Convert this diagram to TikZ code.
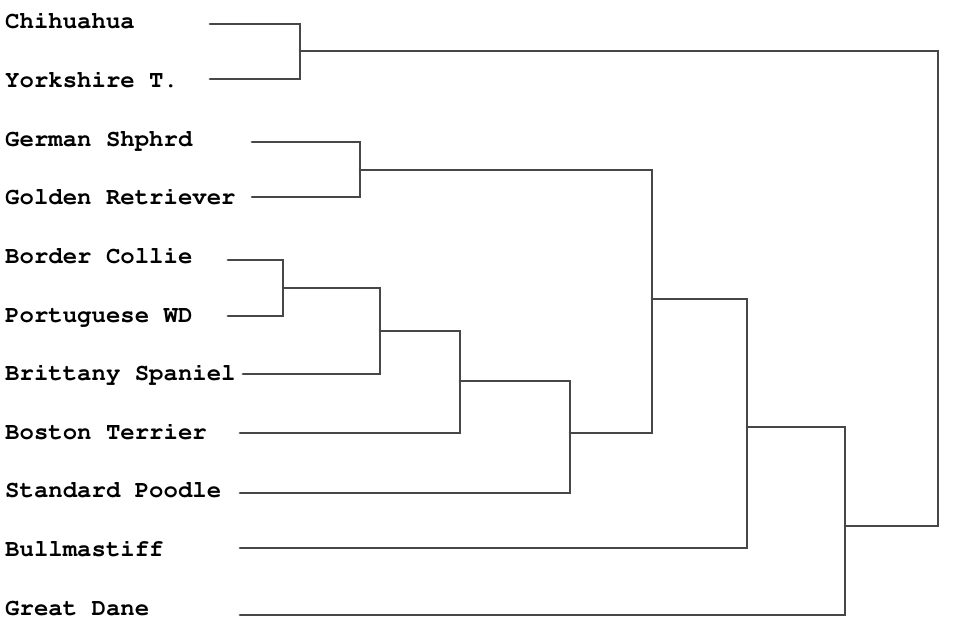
\documentclass[tikz,border=0pt]{standalone}
\usepackage[T1,TU]{fontenc}
\usepackage{tikz}
\usetikzlibrary{positioning}
\tikzset{
        breed/.style={anchor=base west, inner sep=0pt,
                      font=\fontencoding{T1}\fontfamily{pcr}\fontseries{b}\fontsize{24}{28}\selectfont},
        link/.style={draw=black!72, line width=2.7pt, line cap=round},
 }

\begin{document}
\begin{tikzpicture}[x=1pt, y=-1pt]
    \useasboundingbox (0,0) rectangle (960,640);

    % breed labels
    \node[breed] (chi) at (5,28)  {Chihuahua};
    \node[breed] (yor) at (5,87)  {Yorkshire T.};
    \node[breed] (ger) at (5,146) {German Shphrd};
    \node[breed] (gol) at (5,204) {Golden Retriever};
    \node[breed] (bor) at (5,263) {Border Collie};
    \node[breed] (por) at (5,322) {Portuguese WD};
    \node[breed] (bri) at (5,380) {Brittany Spaniel};
    \node[breed] (bos) at (5,439) {Boston Terrier};
    \node[breed] (sta) at (5,497) {Standard Poodle};
    \node[breed] (bul) at (5,556) {Bullmastiff};
    \node[breed] (gre) at (5,615) {Great Dane};

    % leaf ends
    \coordinate (lchi) at (210,24);
    \coordinate (lyor) at (210,79);
    \coordinate (lger) at (252,142);
    \coordinate (lgol) at (252,197);
    \coordinate (lbor) at (228,260);
    \coordinate (lpor) at (228,316);
    \coordinate (lbri) at (243,374);
    \coordinate (lbos) at (240,433);
    \coordinate (lsta) at (240,493);
    \coordinate (lbul) at (240,548);
    \coordinate (lgre) at (240,615);

    % merges
    \coordinate (m1) at (300,51);
    \coordinate (m2) at (360,170);
    \coordinate (m3) at (283,288);
    \coordinate (m4) at (380,331);
    \coordinate (m5) at (460,381);
    \coordinate (m6) at (570,433);
    \coordinate (m7) at (652,299);
    \coordinate (m8) at (747,427);
    \coordinate (m9) at (845,526);
    \coordinate (root) at (938,300);

    \draw[link] (lchi) -| (m1) |- (lyor);
    \draw[link] (lger) -| (m2) |- (lgol);
    \draw[link] (lbor) -| (m3) |- (lpor);
    \draw[link] (m3) -| (m4) |- (lbri);
    \draw[link] (m4) -| (m5) |- (lbos);
    \draw[link] (m5) -| (m6) |- (lsta);
    \draw[link] (m6) -| (m7) |- (m2);
    \draw[link] (m7) -| (m8) |- (lbul);
    \draw[link] (m8) -| (m9) |- (lgre);
    \draw[link] (m1) -| (root) |- (m9);
\end{tikzpicture}
\end{document}
